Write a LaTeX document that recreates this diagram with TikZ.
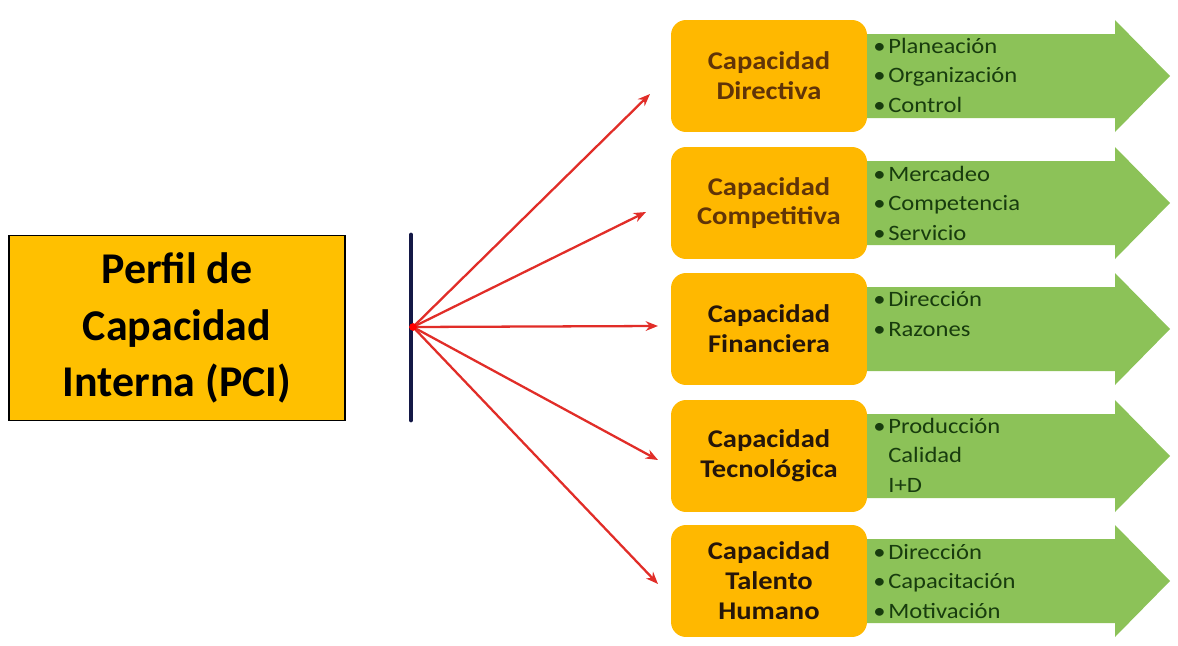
\documentclass[tikz,border=0pt]{standalone}
\usepackage{fontspec}
\setmainfont{Carlito}
\newfontfamily\widefont[FakeStretch=1.12]{Carlito}
\usetikzlibrary{arrows.meta}
\definecolor{pciorange}{RGB}{255,192,0}
\definecolor{caporange}{RGB}{255,184,0}
\definecolor{listgreen}{RGB}{140,194,88}
\definecolor{listtext}{RGB}{24,60,14}
\definecolor{capbrown}{RGB}{96,52,8}
\definecolor{capdark}{RGB}{38,22,10}
\definecolor{hubnavy}{RGB}{20,24,70}
\definecolor{fanred}{RGB}{225,45,40}
\newcommand{\itm}[1]{\makebox[0.3cm][l]{\textbullet}#1}
\newcommand{\noitm}[1]{\hspace{0.3cm}#1}

\begin{document}
\begin{tikzpicture}[x=0.02cm,y=-0.02cm]
\tikzstyle{pci}=[rectangle,draw=black,line width=0.8pt,fill=pciorange,minimum width=6.72cm,minimum height=3.7cm,align=center,font=\fontsize{25}{32}\selectfont\bfseries]
\tikzstyle{capbox}=[rectangle,rounded corners=0.3cm,fill=caporange,minimum width=3.92cm,minimum height=2.24cm,align=center,font=\widefont\fontsize{14.5}{17}\selectfont\bfseries]
\tikzstyle{items}=[anchor=base west,align=left,text=listtext,inner sep=0pt,font=\widefont\fontsize{12.5}{16.7}\selectfont]
\tikzstyle{fan}=[draw=fanred,line width=1.3pt,-{Stealth[length=7pt,width=5.5pt]}]
\useasboundingbox (0,0) rectangle (1178,646);
% green arrows behind the boxes
\foreach \c in {76,203,329,456,581}
  \fill[listgreen] (860,\c-42) -- (1115,\c-42) -- (1115,\c-56) -- (1170,\c) -- (1115,\c+56) -- (1115,\c+42) -- (860,\c+42) -- cycle;
\node [pci] (pci) at (177,328) {Perfil de\\Capacidad\\Interna (PCI)};
\draw [hubnavy,line width=2.8pt,line cap=round] (411,235) -- (411,420);
\coordinate (hub) at (413,327);
\node [capbox,text=capbrown] (dir) at (769,76) {Capacidad\\Directiva};
\node [capbox,text=capbrown] (comp) at (769,203) {Capacidad\\Competitiva};
\node [capbox,text=capdark] (fin) at (769,329) {Capacidad\\Financiera};
\node [capbox,text=capdark] (tec) at (769,456) {Capacidad\\Tecnológica};
\node [capbox,text=capdark] (tal) at (769,581) {Capacidad\\Talento\\Humano};
% lists: base is the last line
\node [items] (dirl) at (873,112) {\itm{Planeación}\\\itm{Organización}\\\itm{Control}};
\node [items] (compl) at (873,240) {\itm{Mercadeo}\\\itm{Competencia}\\\itm{Servicio}};
\node [items] (finl) at (873,336) {\itm{Dirección}\\\itm{Razones}};
\node [items] (tecl) at (873,492) {\itm{Producción}\\\noitm{Calidad}\\\noitm{I+D}};
\node [items] (tall) at (873,618) {\itm{Dirección}\\\itm{Capacitación}\\\itm{Motivación}};
% fan of arrows
\coordinate (dirtip) at (650,94);
\coordinate (comptip) at (646,212);
\coordinate (fintip) at (658,326);
\coordinate (tectip) at (658,460);
\coordinate (taltip) at (658,584);
\foreach \t in {dirtip,comptip,fintip,tectip,taltip}
  \draw [fan] (hub) -- (\t);
\fill [red] (hub) circle (2.2pt);
\end{tikzpicture}
\end{document}
